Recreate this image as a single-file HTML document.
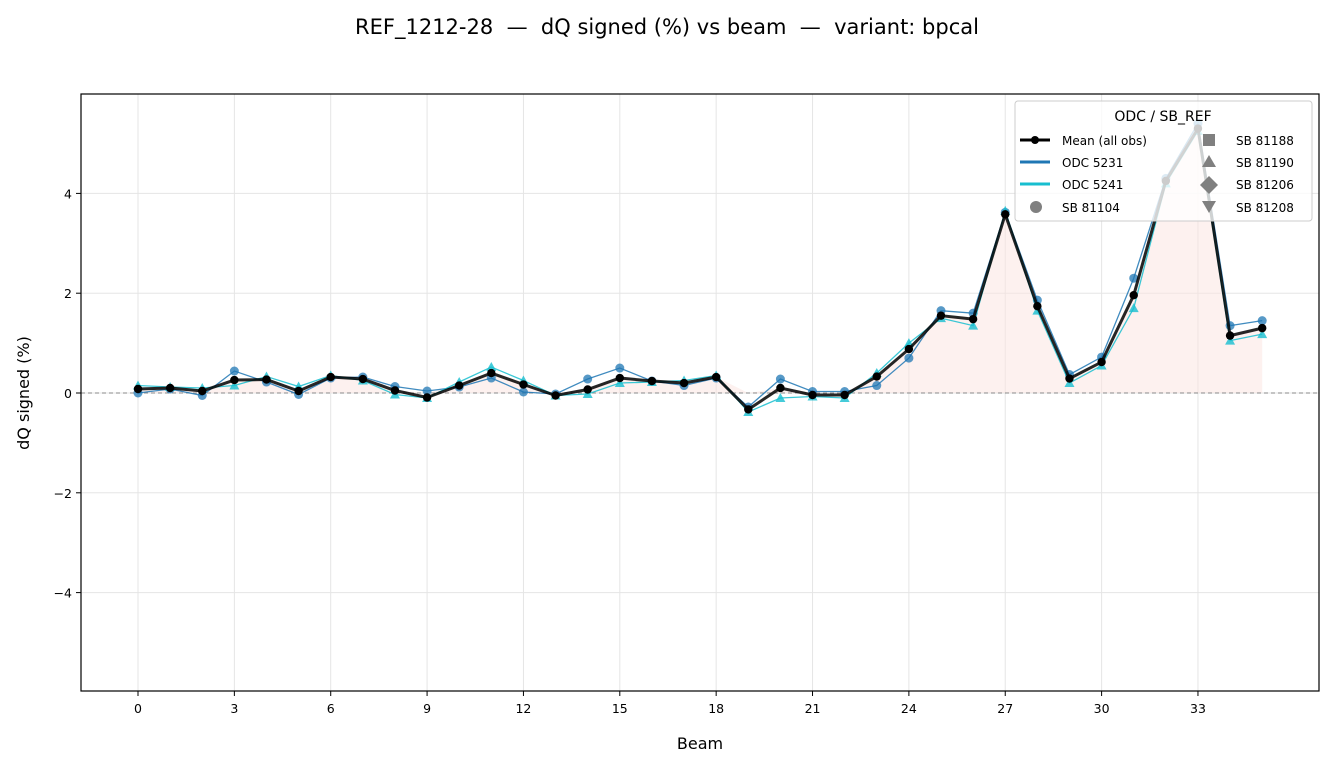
<!DOCTYPE html>
<html><head><meta charset="utf-8"><style>
body{margin:0;background:#fff}
svg{font-family:"DejaVu Sans","Liberation Sans",sans-serif}
</style></head><body>
<svg id="s" width="1334" height="767" xmlns="http://www.w3.org/2000/svg">
<rect width="1334" height="767" fill="#fff"/>
<text x="667" y="34" font-size="21" text-anchor="middle" style="white-space:pre">REF_1212-28  —  dQ signed (%) vs beam  —  variant: bpcal</text>
<g id="grid"></g>
<g id="plot"></g>
<rect x="81" y="94" width="1238" height="597" fill="none" stroke="#000" stroke-width="1.2"/>
<text x="700" y="749" font-size="16" text-anchor="middle">Beam</text>
<text transform="translate(29,393) rotate(-90)" font-size="16" text-anchor="middle">dQ signed (%)</text>
<g font-size="12">
<rect x="1015" y="101" width="297" height="120" fill="#fff" fill-opacity="0.8" stroke="#ccc" rx="3"/>
<text x="1163" y="121" font-size="14" text-anchor="middle">ODC / SB_REF</text>
<line x1="1020" y1="140" x2="1050" y2="140" stroke="#000" stroke-width="3"/><circle cx="1035" cy="140" r="4"/>
<text x="1062" y="145">Mean (all obs)</text>
<line x1="1020" y1="162" x2="1050" y2="162" stroke="#1f77b4" stroke-width="3"/><text x="1062" y="167">ODC 5231</text>
<line x1="1020" y1="184" x2="1050" y2="184" stroke="#17becf" stroke-width="3"/><text x="1062" y="189">ODC 5241</text>
<circle cx="1036" cy="207" r="6" fill="#808080"/><text x="1062" y="212">SB 81104</text>
<rect x="1203" y="134" width="12" height="12" fill="#808080"/><text x="1236" y="145">SB 81188</text>
<polygon points="1209,155 1216,167 1202,167" fill="#808080"/><text x="1236" y="167">SB 81190</text>
<polygon points="1209,176 1218,185 1209,194 1200,185" fill="#808080"/><text x="1236" y="189">SB 81206</text>
<polygon points="1202,201 1216,201 1209,213" fill="#808080"/><text x="1236" y="212">SB 81208</text>
</g>
</svg>
<script>
const X=b=>138+32.12*b, Y=v=>393-49.9*v;
const mean=[0.08,0.1,0.04,0.26,0.27,0.04,0.32,0.28,0.05,-0.09,0.15,0.4,0.17,-0.05,0.07,0.3,0.24,0.2,0.32,-0.33,0.1,-0.04,-0.04,0.33,0.88,1.55,1.48,3.58,1.74,0.29,0.62,1.96,4.25,5.3,1.15,1.3];
const a=[0,0.08,-0.05,0.44,0.22,-0.03,0.3,0.32,0.13,0.04,0.12,0.3,0.02,-0.02,0.28,0.5,0.24,0.15,0.3,-0.28,0.28,0.03,0.03,0.15,0.7,1.65,1.6,3.62,1.86,0.37,0.72,2.3,4.3,5.4,1.35,1.45];
const c=[0.15,0.12,0.1,0.15,0.33,0.13,0.35,0.25,-0.03,-0.1,0.22,0.52,0.25,-0.05,-0.02,0.2,0.22,0.25,0.35,-0.38,-0.1,-0.07,-0.1,0.4,1.0,1.5,1.35,3.65,1.65,0.2,0.55,1.7,4.2,5.25,1.05,1.18];
const ns="http://www.w3.org/2000/svg";
function el(p,t,at){const e=document.createElementNS(ns,t);for(const k in at)e.setAttribute(k,at[k]);p.appendChild(e);return e;}
const g=document.getElementById('grid'),p=document.getElementById('plot');
for(let b=0;b<=33;b+=3){el(g,'line',{x1:X(b),x2:X(b),y1:94,y2:691,stroke:'#e5e5e5'});el(g,'line',{x1:X(b),x2:X(b),y1:691,y2:696,stroke:'#000'});const t=el(g,'text',{x:X(b),y:713,'font-size':12.5,'text-anchor':'middle'});t.textContent=b;}
for(let v=-4;v<=4;v+=2){el(g,'line',{x1:81,x2:1319,y1:Y(v),y2:Y(v),stroke:'#e5e5e5'});el(g,'line',{x1:76,x2:81,y1:Y(v),y2:Y(v),stroke:'#000'});const t=el(g,'text',{x:72,y:Y(v)+5,'font-size':12.5,'text-anchor':'end'});t.textContent=(v<0?'−':'')+Math.abs(v);}
let fp=`M${X(0)},${Y(0)} `+mean.map((v,i)=>`L${X(i)},${Y(Math.max(v,0))}`).join(' ')+` L${X(35)},${Y(0)} Z`;
el(p,'path',{d:fp,fill:'#fbe3df',opacity:0.5});
el(p,'line',{x1:81,x2:1319,y1:Y(0),y2:Y(0),stroke:'#888','stroke-dasharray':'4,3'});
const pl=(d,col,w)=>el(p,'polyline',{points:d.map((v,i)=>X(i)+','+Y(v)).join(' '),fill:'none',stroke:col,'stroke-width':w,opacity:0.85});
pl(a,'#1f77b4',1.3);a.forEach((v,i)=>el(p,'circle',{cx:X(i),cy:Y(v),r:4.5,fill:'#1f77b4',opacity:0.75}));
pl(c,'#17becf',1.3);c.forEach((v,i)=>{const x=X(i),y=Y(v);el(p,'polygon',{points:`${x},${y-5} ${x+5},${y+4} ${x-5},${y+4}`,fill:'#17becf',opacity:0.8});});
pl(mean,'#000',3);mean.forEach((v,i)=>el(p,'circle',{cx:X(i),cy:Y(v),r:4.2,fill:'#000'}));
</script>
</body></html>
